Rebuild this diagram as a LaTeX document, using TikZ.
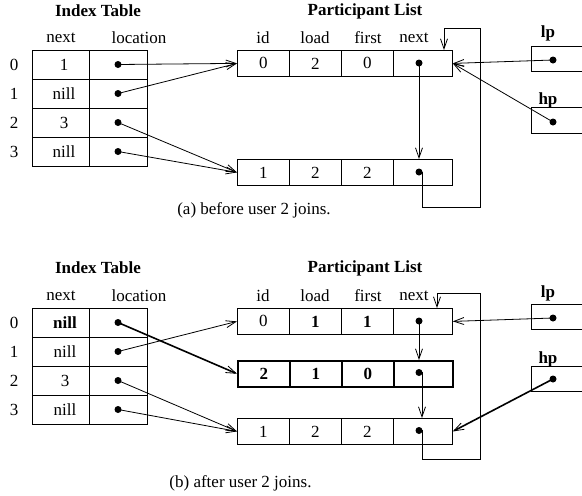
\documentclass[tikz,border=0pt]{standalone}
\usepackage{fontspec}
\setmainfont{Liberation Serif}
\usetikzlibrary{arrows.meta}
\begin{document}
\begin{tikzpicture}[x=1pt,y=-1pt,
  every node/.style={font=\fontsize{17}{20}\selectfont},
  txt/.style={inner sep=0pt},
  title/.style={inner sep=0pt,font=\fontsize{17}{20}\selectfont\bfseries},
  cell/.style={draw,line width=0.8pt,inner sep=0pt,anchor=north west},
  icellA/.style={cell,minimum width=57,minimum height=29},
  icellB/.style={cell,minimum width=58,minimum height=29},
  pcell/.style={cell,minimum width=52,minimum height=26},
  pcellN/.style={cell,minimum width=59,minimum height=26},
  dot/.style={circle,fill,inner sep=0pt,minimum size=7},
  conn/.style={line width=0.8pt},
  arr/.style={line width=0.8pt,-{Straight Barb[length=10,width=7,line width=0.8pt]}},
  bold/.style={line width=1.6pt}
]
\useasboundingbox (0,0) rectangle (582,496);

% ================= (a) =================
\node[title] (ita) at (98,11) {Index Table};
\node[title] (pla) at (365,11) {Participant List};
\node[txt] (hnA) at (61,38) {next};
\node[txt] (hlA) at (139,38) {location};
\node[txt] (hidA) at (263,38) {id};
\node[txt] (hldA) at (315,38) {load};
\node[txt] (hfA) at (368,38) {first};
\node[txt] (hxA) at (414,38) {next};

\foreach \i/\v in {0/1,1/nill,2/3,3/nill}{
  \node[icellA] (ina\i) at (32,50+29*\i) {};
  \node[icellB] (ila\i) at (89,50+29*\i) {};
  \node[txt] at (64,64.5+29*\i) {\v};
  \node[txt] (rla\i) at (14,64.5+29*\i) {\i};
  \node[dot] (dla\i) at (118,64.5+29*\i) {};
}

% participant rows
\node[pcell] (a0id) at (237,50) {0};
\node[pcell] (a0ld) at (289,50) {2};
\node[pcell] (a0fs) at (341,50) {0};
\node[pcellN] (a0nx) at (393,50) {};
\node[dot] (da0) at (419,63) {};

\node[pcell] (a1id) at (237,159) {1};
\node[pcell] (a1ld) at (289,159) {2};
\node[pcell] (a1fs) at (341,159) {2};
\node[pcellN] (a1nx) at (393,159) {};
\node[dot] (da1) at (419,172) {};

% lp / hp
\node[title] (lpa) at (548,33) {lp};
\draw[line width=0.8pt] (582,46) -- (531,46) -- (531,71) -- (582,71);
\node[dot] (dlpa) at (553,60) {};
\node[title] (hpa) at (548,100) {hp};
\draw[line width=0.8pt] (582,107) -- (531,107) -- (531,133) -- (582,133);
\node[dot] (dhpa) at (553,122) {};

% connectors
\draw[arr] (dla0.center) -- (a0id.west);
\draw[arr] (dla1.center) -- (a0id.west);
\draw[arr] (dla2.center) -- (a1id.west);
\draw[arr] (dla3.center) -- (a1id.west);
\draw[arr] (da0.center) -- (da0 |- a1nx.north);
\coordinate (la1) at (422,207);
\coordinate (la2) at (480,207);
\coordinate (la3) at (480,28);
\coordinate (la4) at (444,28);
\draw[arr] (da1.center) -| (la1) -- (la2) -- (la3) -- (la4) -- (la4 |- a0nx.north);
\draw[arr] (dlpa.center) -- (a0nx.east);
\draw[arr] (dhpa.center) -- (a0nx.east);

\node[txt] (capa) at (254,210) {(a) before user 2 joins.};

% ================= (b) =================
\node[title] (itb) at (98,268) {Index Table};
\node[title] (plb) at (365,268) {Participant List};
\node[txt] (hnB) at (61,296) {next};
\node[txt] (hlB) at (139,296) {location};
\node[txt] (hidB) at (263,296) {id};
\node[txt] (hldB) at (315,296) {load};
\node[txt] (hfB) at (368,296) {first};
\node[txt] (hxB) at (414,296) {next};

\foreach \i/\v in {0/\textbf{nill},1/nill,2/3,3/nill}{
  \node[icellA] (inb\i) at (32,308+29*\i) {};
  \node[icellB] (ilb\i) at (89,308+29*\i) {};
  \node[txt] at (65,322.5+29*\i) {\v};
  \node[txt] (rlb\i) at (14,322.5+29*\i) {\i};
  \node[dot] (dlb\i) at (118,322.5+29*\i) {};
}

\node[pcell] (b0id) at (237,308) {0};
\node[pcell] (b0ld) at (289,308) {\textbf{1}};
\node[pcell] (b0fs) at (341,308) {\textbf{1}};
\node[pcellN] (b0nx) at (393,308) {};
\node[dot] (db0) at (419,321) {};

\node[pcell,line width=1.5pt] (b1id) at (237,360) {\textbf{2}};
\node[pcell,line width=1.5pt] (b1ld) at (289,360) {\textbf{1}};
\node[pcell,line width=1.5pt] (b1fs) at (341,360) {\textbf{0}};
\node[pcellN,line width=1.5pt] (b1nx) at (393,360) {};
\node[dot] (db1) at (419,372.5) {};

\node[pcell] (b2id) at (237,418) {1};
\node[pcell] (b2ld) at (289,418) {2};
\node[pcell] (b2fs) at (341,418) {2};
\node[pcellN] (b2nx) at (393,418) {};
\node[dot] (db2) at (419,430.5) {};

\node[title] (lpb) at (548,293) {lp};
\draw[line width=0.8pt] (582,304) -- (531,304) -- (531,329) -- (582,329);
\node[dot] (dlpb) at (553,318) {};
\node[title] (hpb) at (548,359) {hp};
\draw[line width=0.8pt] (582,366) -- (531,366) -- (531,391) -- (582,391);
\node[dot] (dhpb) at (553,379) {};

\draw[arr,bold] (dlb0.center) -- (b1id.west);
\draw[arr] (dlb1.center) -- (b0id.west);
\draw[arr] (dlb2.center) -- (b2id.west);
\draw[arr] (dlb3.center) -- (b2id.west);
\draw[arr] (db0.center) -- (db0 |- b1nx.north);
\coordinate (mb1) at (422,372.5);
\draw[arr] (db1.center) -- (mb1) -- (mb1 |- b2nx.north);
\coordinate (lb1) at (422,459);
\coordinate (lb2) at (480,459);
\coordinate (lb3) at (480,293);
\coordinate (lb4) at (437,293);
\draw[arr] (db2.center) -| (lb1) -- (lb2) -- (lb3) -- (lb4) -- (lb4 |- b0nx.north);
\draw[arr] (dlpb.center) -- (b0nx.east);
\draw[arr,bold] (dhpb.center) -- (b2nx.east);

\node[txt] (capb) at (240.5,483) {(b) after user 2 joins.};
\end{tikzpicture}
\end{document}
